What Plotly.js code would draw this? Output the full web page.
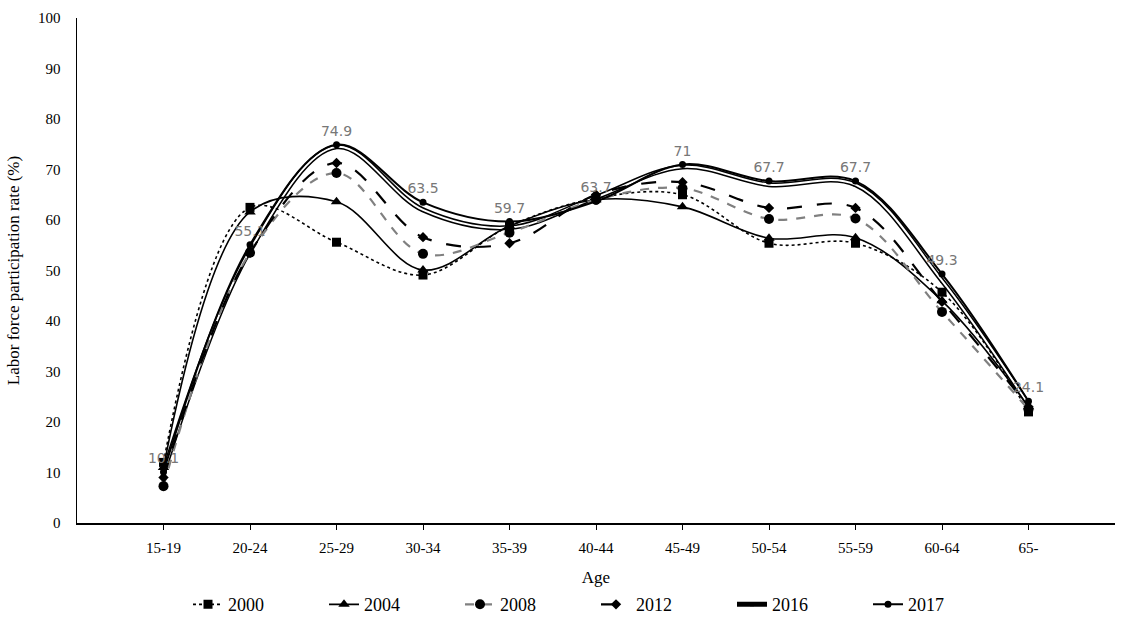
<!DOCTYPE html>
<html>
<head>
<meta charset="utf-8">
<script src="https://cdn.plot.ly/plotly-3.0.1.min.js"></script>
<style>html,body{margin:0;padding:0;background:#fff;}#chart{width:1134px;height:620px;}</style>
</head>
<body>
<div id="chart"></div>
<script>
const ageGroups = ["15-19","20-24","25-29","30-34","35-39","40-44","45-49","50-54","55-59","60-64","65-"];
const y2000 = [12.0, 62.5, 55.6, 49.1, 58.8, 64.3, 65.0, 55.4, 55.4, 45.7, 22.0];
const y2004 = [11.0, 61.6, 63.6, 50.1, 58.8, 64.0, 62.6, 56.4, 56.5, 44.0, 23.0];
const y2008 = [7.3, 53.5, 69.3, 53.3, 57.5, 64.0, 66.3, 60.2, 60.3, 41.8, 22.5];
const y2012 = [9.0, 53.5, 71.3, 56.6, 55.4, 65.0, 67.5, 62.4, 62.4, 43.8, 23.0];
const y2016 = [10.0, 54.0, 74.5, 62.0, 58.5, 64.5, 70.5, 67.0, 67.0, 48.0, 23.5];
const y2017 = [10.1, 55.1, 74.9, 63.5, 59.7, 63.7, 71.0, 67.7, 67.7, 49.3, 24.1];
const labels2017 = ["10.1","55.1","74.9","63.5","59.7","63.7","71","67.7","67.7","49.3","24.1"];

const serif = "Liberation Serif, Times New Roman, serif";
const sm = 1.0;

const traces = [
  {x: ageGroups, y: y2016, name: "2016", type: "scatter", mode: "lines+markers",
   line: {color: "#000", width: 5, shape: "spline", smoothing: sm},
   marker: {symbol: "square", size: 4, color: "#000"}},
  {x: ageGroups, y: y2016, name: "2016w", type: "scatter", mode: "lines", showlegend: false,
   line: {color: "#fff", width: 2, shape: "spline", smoothing: sm}, hoverinfo: "skip"},
  {x: ageGroups, y: y2000, name: "2000", type: "scatter", mode: "lines+markers",
   line: {color: "#000", width: 1.6, dash: "dot", shape: "spline", smoothing: sm},
   marker: {symbol: "square", size: 9, color: "#000"}},
  {x: ageGroups, y: y2004, name: "2004", type: "scatter", mode: "lines+markers",
   line: {color: "#000", width: 1.6, shape: "spline", smoothing: sm},
   marker: {symbol: "triangle-up", size: 10, color: "#000"}},
  {x: ageGroups, y: y2008, name: "2008", type: "scatter", mode: "lines+markers",
   line: {color: "#808080", width: 2.2, dash: "dash", shape: "spline", smoothing: sm},
   marker: {symbol: "circle", size: 10, color: "#000"}},
  {x: ageGroups, y: y2012, name: "2012", type: "scatter", mode: "lines+markers",
   line: {color: "#000", width: 2.2, dash: "longdash", shape: "spline", smoothing: sm},
   marker: {symbol: "diamond", size: 8, color: "#000"}},
  {x: ageGroups, y: y2017, name: "2017", type: "scatter", mode: "lines+markers+text",
   text: labels2017, textposition: "top center",
   textfont: {family: "DejaVu Sans, sans-serif", size: 14, color: "#777"},
   line: {color: "#000", width: 2, shape: "spline", smoothing: sm},
   marker: {symbol: "circle", size: 7, color: "#000"}}
];

const order = ["2000","2004","2008","2012","2016","2017"];
traces.forEach(t => { const i = order.indexOf(t.name); if (i >= 0) t.legendrank = i + 1; });

const layout = {
  width: 1134, height: 620,
  margin: {l: 77, r: 19, t: 18, b: 97, autoexpand: false},
  paper_bgcolor: "#fff", plot_bgcolor: "#fff",
  showlegend: true,
  legend: {orientation: "h", x: 0.5, xanchor: "center", y: -0.125, yanchor: "top",
           font: {family: serif, size: 18, color: "#000"},
           entrywidth: 91, entrywidthmode: "pixels", traceorder: "normal",
           itemwidth: 30, tracegroupgap: 0},
  xaxis: {
    type: "category", range: [-1, 11],
    showline: true, linecolor: "#000", linewidth: 1.5,
    showgrid: false, zeroline: false,
    ticks: "outside", ticklen: 5, tickcolor: "#000",
    ticklabelstandoff: 5,
    tickfont: {family: serif, size: 15, color: "#000"},
    title: {text: "Age", font: {family: serif, size: 17, color: "#000"}, standoff: 16}
  },
  yaxis: {
    range: [0, 100], dtick: 10, tick0: 0,
    showline: true, linecolor: "#000", linewidth: 1.5,
    showgrid: false, zeroline: false, ticks: "",
    ticklabelstandoff: 12,
    tickfont: {family: serif, size: 15, color: "#000"},
    title: {text: "Labor force participation rate (%)", font: {family: serif, size: 17, color: "#000"}, standoff: 14}
  }
};

Plotly.newPlot("chart", traces, layout, {displayModeBar: false, staticPlot: true});
</script>
</body>
</html>
